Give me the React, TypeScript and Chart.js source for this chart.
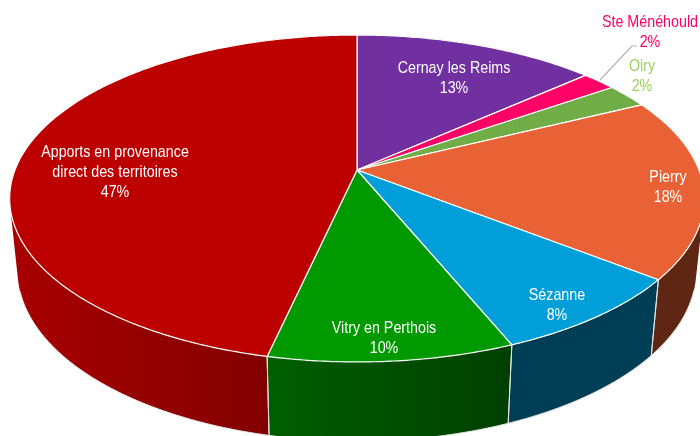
import React, { useEffect, useRef } from "react";
import { Chart, registerables } from "chart.js";

Chart.register(...registerables);

const categories = [
  ["Cernay les Reims"],
  ["Ste Ménéhould"],
  ["Oiry"],
  ["Pierry"],
  ["Sézanne"],
  ["Vitry en Perthois"],
  ["Apports en provenance", "direct des territoires"],
];
const values = [13.4, 1.9, 2.4, 17.9, 8.2, 9.7, 46.5];
const topColors = ["#7030a0", "#ff0066", "#70ad47", "#e86235", "#009fd9", "#009a00", "#bc0000"];
const wallFrom = ["#4a1f6b", "#a80044", "#4a742f", "#5f2614", "#003e56", "#005f00", "#a80000"];
const wallTo = ["#4a1f6b", "#a80044", "#4a742f", "#5f2614", "#003e56", "#003f00", "#750000"];
const labelColors = ["#ffffff", "#ff0066", "#9bd05f", "#ffffff", "#ffffff", "#ffffff", "#ffffff"];

// Projection of the pie's unit circle on to the tilted disc, in page pixels.
const PROJ = { cx: 357, cy: 170, B: 342, A: 158.5, k: -0.1743 };
const DEPTH = { base: 73, fromY: 217, slope: 0.043, vanishX: 352, lean: 0.023 };
const LABEL_XY = [
  [454, 68],
  [650, 22],
  [642, 66],
  [668, 177],
  [557, 295],
  [384, 328],
  [115, 152],
];
const LINE_H = 20;
const TEXT_SQUEEZE = 0.84;

type P = [number, number];
const top = (a: number): P => {
  const X = Math.cos(a);
  const Y = Math.sin(a);
  const w = 1 + PROJ.k * Y;
  return [PROJ.cx + (PROJ.B * X) / w, PROJ.cy + (PROJ.A * Y) / w];
};
const bottom = ([x, y]: P): P => [
  x + (DEPTH.vanishX - x) * DEPTH.lean,
  y + DEPTH.base + (y - DEPTH.fromY) * DEPTH.slope,
];
const area = (q: P[]) =>
  q.reduce((s, p, i) => {
    const n = q[(i + 1) % q.length];
    return s + p[0] * n[1] - n[0] * p[1];
  }, 0);

const pie3d = {
  id: "pie3d",
  beforeDatasetsDraw(chart: any) {
    const ctx: CanvasRenderingContext2D = chart.ctx;
    const arcs = chart.getDatasetMeta(0).data;
    const steps = (s: number, e: number) => {
      const n = Math.max(2, Math.ceil((e - s) / 0.01));
      const out: number[] = [];
      for (let i = 0; i <= n; i++) out.push(s + ((e - s) * i) / n);
      return out;
    };
    ctx.save();
    ctx.lineJoin = "round";
    // walls: one path made of same-handed strips, so their union fills without seams
    arcs.forEach((arc: any, i: number) => {
      const pts = steps(arc.startAngle, arc.endAngle).map(top);
      const low = pts.map(bottom);
      const xs = pts.map((p) => p[0]).concat(low.map((p) => p[0]));
      const g = ctx.createLinearGradient(Math.min(...xs), 0, Math.max(...xs), 0);
      g.addColorStop(0, wallFrom[i]);
      g.addColorStop(1, wallTo[i]);
      ctx.fillStyle = g;
      ctx.beginPath();
      for (let j = 0; j < pts.length - 1; j++) {
        let q: P[] = [pts[j], pts[j + 1], low[j + 1], low[j]];
        if (area(q) < 0) q = q.reverse();
        ctx.moveTo(q[0][0], q[0][1]);
        ctx.lineTo(q[1][0], q[1][1]);
        ctx.lineTo(q[2][0], q[2][1]);
        ctx.lineTo(q[3][0], q[3][1]);
        ctx.closePath();
      }
      ctx.fill("nonzero");
    });
    // seams and lower rim
    ctx.strokeStyle = "#e4e4e4";
    ctx.lineWidth = 1;
    arcs.forEach((arc: any) => {
      const pts = steps(arc.startAngle, arc.endAngle).map(top);
      ctx.beginPath();
      let pen = false;
      pts.forEach((p) => {
        if (p[1] < DEPTH.fromY) {
          pen = false;
          return;
        }
        const q = bottom(p);
        if (pen) ctx.lineTo(q[0], q[1]);
        else ctx.moveTo(q[0], q[1]);
        pen = true;
      });
      [pts[0], pts[pts.length - 1]].forEach((p) => {
        if (p[1] < DEPTH.fromY) return;
        const q = bottom(p);
        ctx.moveTo(p[0], p[1]);
        ctx.lineTo(q[0], q[1]);
      });
      ctx.stroke();
    });
    // top face
    arcs.forEach((arc: any, i: number) => {
      ctx.beginPath();
      ctx.moveTo(PROJ.cx, PROJ.cy);
      steps(arc.startAngle, arc.endAngle).map(top).forEach((p) => ctx.lineTo(p[0], p[1]));
      ctx.closePath();
      ctx.fillStyle = topColors[i];
      ctx.fill();
      ctx.strokeStyle = "#ffffff";
      ctx.lineWidth = 1.2;
      ctx.stroke();
    });
    // leader line of Ste Ménéhould
    ctx.beginPath();
    ctx.moveTo(600, 80);
    ctx.lineTo(632, 46);
    ctx.lineTo(637, 46);
    ctx.strokeStyle = "#b5b5b5";
    ctx.lineWidth = 1.2;
    ctx.stroke();
    // labels
    ctx.textAlign = "center";
    ctx.textBaseline = "middle";
    ctx.font = "17px 'Liberation Sans', Arial";
    categories.forEach((lines, i) => {
      const text = [...lines, Math.round(values[i]) + "%"];
      ctx.fillStyle = labelColors[i];
      text.forEach((t, j) => {
        ctx.save();
        ctx.translate(LABEL_XY[i][0], LABEL_XY[i][1] + j * LINE_H);
        ctx.scale(TEXT_SQUEEZE, 1);
        ctx.fillText(t, 0, 0);
        ctx.restore();
      });
    });
    ctx.restore();
    return false;
  },
};

export default function App() {
  const ref = useRef<HTMLCanvasElement>(null);
  useEffect(() => {
    const chart = new Chart(ref.current!, {
      type: "pie",
      data: {
        labels: categories.map((c) => c.join(" ")),
        datasets: [{ data: values, backgroundColor: topColors, borderWidth: 0 }],
      },
      options: {
        animation: false,
        responsive: false,
        plugins: { legend: { display: false }, tooltip: { enabled: false } },
      },
      plugins: [pie3d],
    });
    return () => chart.destroy();
  }, []);
  return (
    <canvas
      ref={ref}
      width={700}
      height={436}
      style={{ position: "fixed", left: 0, top: 0, display: "block", background: "#fff" }}
    />
  );
}
